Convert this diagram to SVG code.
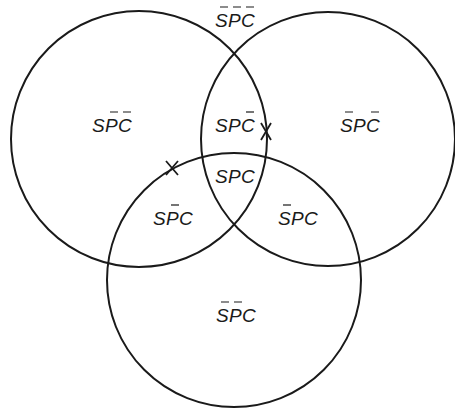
<svg xmlns="http://www.w3.org/2000/svg" width="455" height="410" viewBox="0 0 455 410">
<style>
.c{fill:none;stroke:#1a1a1a;stroke-width:2}
.t{font-family:"Liberation Sans",Arial,sans-serif;font-style:italic;font-size:19px;fill:#1a1a1a}
.b{stroke:#1a1a1a;stroke-width:1.2}
.x{stroke:#1a1a1a;stroke-width:1.8;fill:none}
</style>
<rect width="455" height="410" fill="#fff"/>
<g id="circles">
<circle id="circleS" class="c" cx="139" cy="139" r="128"/>
<circle id="circleP" class="c" cx="328" cy="139" r="127"/>
<circle id="circleC" class="c" cx="234" cy="280" r="127"/>
</g>
<g id="labels">
<g id="r_none">
<text class="t" y="27"><tspan x="215">S</tspan><tspan x="228">P</tspan><tspan x="241">C</tspan></text>
<path class="b" d="M220 7h8M233 7h8M246 7h8"/>
</g>
<g id="r_S">
<text class="t" y="132"><tspan x="92">S</tspan><tspan x="105">P</tspan><tspan x="118">C</tspan></text>
<path class="b" d="M110 112h8M123 112h8"/>
</g>
<g id="r_SP">
<text class="t" y="132"><tspan x="215">S</tspan><tspan x="228">P</tspan><tspan x="241">C</tspan></text>
<path class="b" d="M246 112h8"/>
</g>
<g id="r_P">
<text class="t" y="132"><tspan x="340">S</tspan><tspan x="353">P</tspan><tspan x="366">C</tspan></text>
<path class="b" d="M345 112h8M371 112h8"/>
</g>
<g id="r_SPC">
<text class="t" y="183"><tspan x="215">S</tspan><tspan x="228">P</tspan><tspan x="241">C</tspan></text>
</g>
<g id="r_SC">
<text class="t" y="225"><tspan x="153">S</tspan><tspan x="166">P</tspan><tspan x="179">C</tspan></text>
<path class="b" d="M171 205h8"/>
</g>
<g id="r_PC">
<text class="t" y="225"><tspan x="278">S</tspan><tspan x="291">P</tspan><tspan x="304">C</tspan></text>
<path class="b" d="M283 205h8"/>
</g>
<g id="r_C">
<text class="t" y="322"><tspan x="216">S</tspan><tspan x="229">P</tspan><tspan x="242">C</tspan></text>
<path class="b" d="M221 302h8M234 302h8"/>
</g>
</g>
<g id="marks">
<path class="x" d="M166 161L178 175M178 161L166 175"/>
<path class="x" d="M261 123L271 140M271 123L261 140"/>
</g>
</svg>
